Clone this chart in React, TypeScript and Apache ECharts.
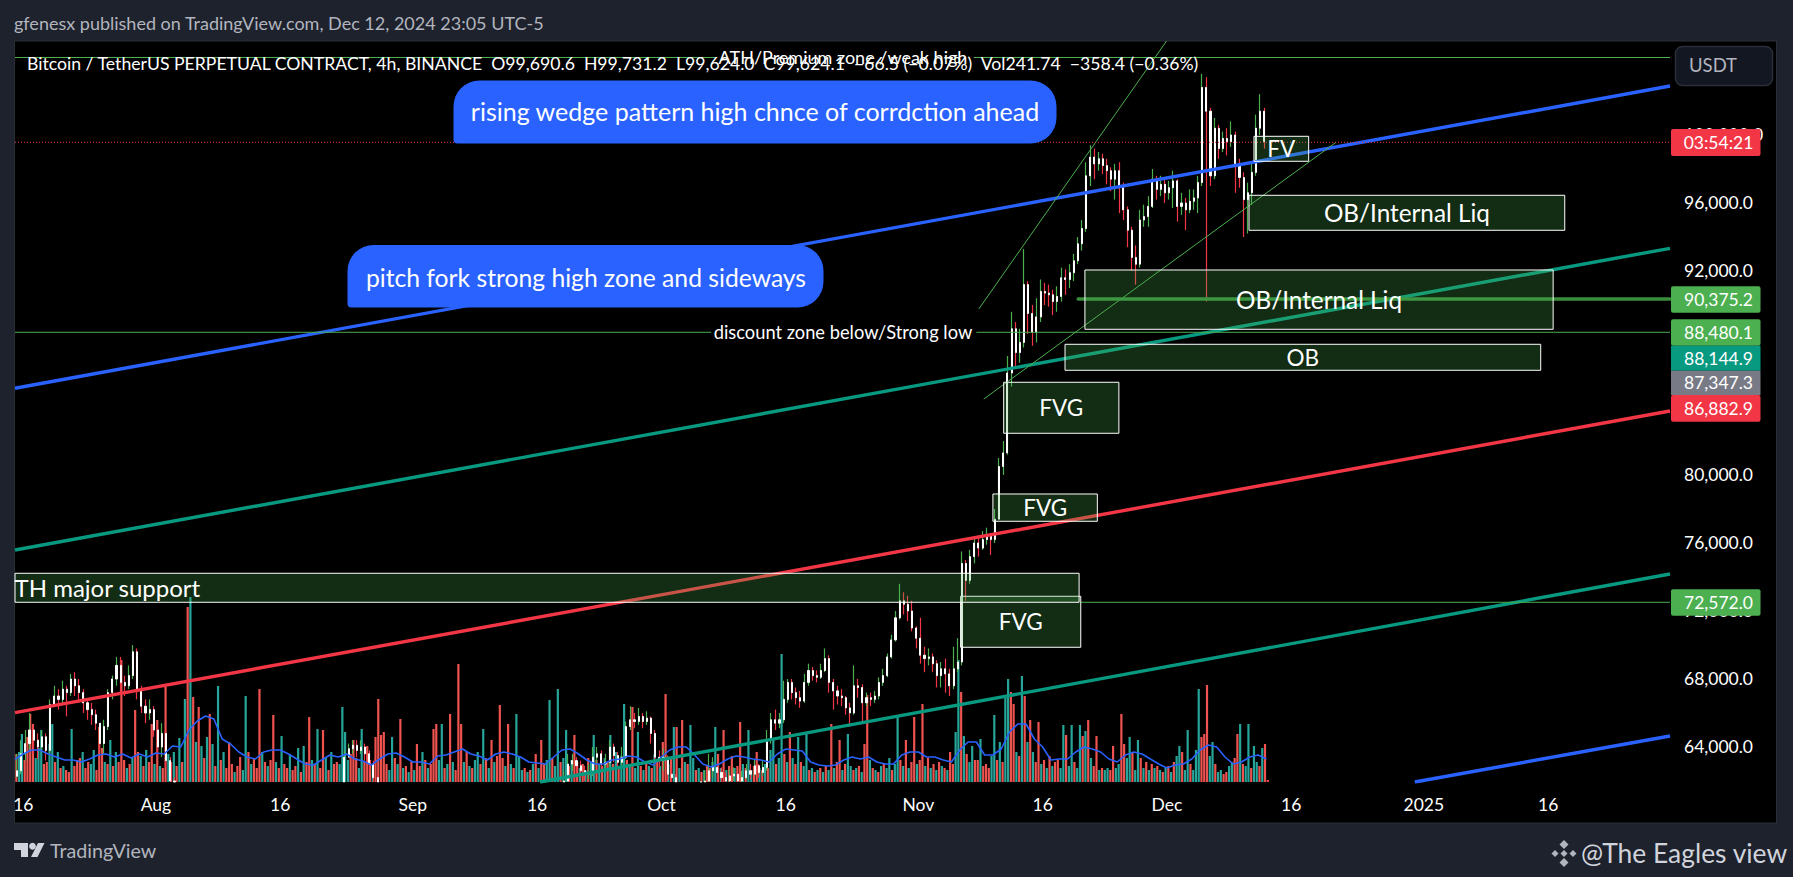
import React, { useEffect, useRef } from "react";
import * as echarts from "echarts";

const FONT = "Lato, 'Noto Sans', sans-serif";
const Y_MIN = 61941;
const Y_MAX = 105529;
const X_MAX = 199.7;

const tickDays = [1, 17, 32, 48, 63, 78, 93, 109, 124, 139, 154, 170, 185];
const tickLabels = ["16", "Aug", "16", "Sep", "16", "Oct", "16", "Nov", "16", "Dec", "16", "2025", "16"];
const priceTicks = [64000, 68000, 72000, 76000, 80000, 92000, 96000, 100000];

// close, high, low in thousand USDT, one row every 12 hours; opens follow the previous close
const candlesJul = [
  62.6,63.6,62.2, 63.6,64.4,62.4, 64.2,65.0,63.2, 65.0,66.0,63.8, 64.4,65.2,63.6, 64.0,64.8,63.3, 64.6,65.0,63.8, 63.8,64.8,63.2,
  66.5,66.8,63.6, 67.0,67.6,66.4, 66.8,67.4,66.2, 67.4,67.9,66.6, 67.2,67.6,65.8, 68.0,68.3,67.0, 67.6,68.4,67.0, 67.2,68.0,66.6,
  66.6,67.4,66.0, 66.2,66.8,65.6, 65.9,66.6,65.3, 65.4,66.2,65.0, 64.2,65.4,63.8, 65.2,65.6,63.6, 67.2,67.4,65.0, 68.0,68.2,66.8,
  68.8,69.3,67.6, 67.8,69.3,67.2, 67.6,68.2,67.0, 68.2,68.8,67.4, 69.6,70.0,68.0, 67.4,69.8,66.8, 66.4,67.6,66.0, 66.0,66.8,65.4,
  66.2,66.8,65.6, 65.0,66.4,64.6, 64.0,65.2,63.4, 64.8,65.4,63.4, 63.2,65.0,62.8, 62.0,63.4,61.6, 60.5,62.2,60.0,
];
const candlesAug = [
  63.4,63.8,61.4, 63.9,64.2,63.4, 64.1,64.4,63.6, 63.8,64.4,63.4, 64.0,64.4,63.6, 63.6,64.2,63.2, 63.0,63.8,62.6, 62.2,63.2,61.8, 61.2,62.4,60.8,
];
const candlesSep = [
  62.0,62.6,61.4, 63.0,63.6,61.8, 63.2,63.6,62.6, 62.9,63.4,62.4, 62.6,63.2,62.2, 62.4,62.9,62.0, 62.5,63.0,62.1, 63.4,64.0,62.3,
  63.6,64.0,63.0, 63.0,63.8,62.7, 63.1,63.6,62.6, 64.0,64.4,62.8, 63.5,64.2,63.1, 63.1,63.7,62.8, 63.4,64.0,62.9, 65.2,65.5,63.3,
  65.6,66.4,65.0, 65.5,66.0,65.1, 65.8,66.3,65.3, 65.5,66.0,65.1, 65.7,66.1,65.3, 64.8,65.8,64.2, 63.4,65.0,62.9, 63.2,63.8,62.8,
  63.4,63.9,62.6, 62.4,63.5,62.0, 62.2,62.8,61.8, 61.2,62.4,60.4, 60.8,61.4,60.2, 60.6,61.2,60.1, 60.6,61.1,60.2, 61.2,61.6,60.5,
  61.0,61.5,60.6, 61.6,62.0,61.0, 62.0,62.6,61.4, 62.6,63.6,61.8, 62.8,63.4,62.2, 62.5,63.0,62.0, 62.2,62.8,61.9, 62.0,62.5,61.6,
  62.3,62.7,61.9, 62.4,62.8,62.0, 62.0,62.5,61.7, 62.2,62.6,61.8, 62.6,63.0,62.1, 62.4,63.0,62.1, 62.9,63.3,62.3, 62.5,63.0,62.2,
  62.8,63.2,62.3, 64.4,65.0,62.6, 65.6,66.0,64.2, 65.4,66.2,65.0, 65.6,66.0,65.1, 66.8,67.9,65.4, 67.8,68.0,66.6, 67.2,68.0,66.8,
  66.9,67.5,66.5, 66.7,67.3,66.3, 67.8,68.3,66.6, 68.5,68.9,67.6, 68.2,68.7,67.9, 68.1,68.5,67.8, 68.5,68.9,68.0, 69.2,69.8,68.4,
  67.8,69.4,67.2, 67.3,68.0,66.2, 67.0,67.6,66.5, 66.9,67.4,66.4, 66.3,67.0,65.9, 66.0,66.6,65.2, 67.6,68.8,65.9, 67.5,68.0,66.9,
  66.6,67.7,65.4, 66.9,67.2,66.4, 66.8,67.2,66.4, 67.0,67.3,66.6, 67.8,68.1,66.8, 68.2,68.6,67.6, 69.3,69.5,68.1, 70.3,70.6,69.2,
  71.6,72.0,70.2, 72.6,73.6,71.5, 72.4,73.1,71.8, 72.0,72.9,71.4, 71.0,72.6,70.8, 70.4,71.1,69.8, 69.4,71.6,68.9, 69.2,69.9,68.4,
  69.3,69.8,68.8, 68.9,69.5,68.4, 68.2,69.1,67.5, 68.6,69.0,67.5, 68.3,69.2,67.2, 67.6,68.6,67.0, 68.6,69.9,67.4, 69.0,70.4,68.4,
  74.8,75.5,68.8, 73.8,75.0,72.6, 75.2,75.6,73.6, 76.0,76.4,74.8, 75.7,76.3,75.2, 76.2,76.7,75.6, 76.4,76.9,75.9, 76.2,76.6,75.3,
  77.4,78.0,76.0, 80.5,81.0,77.4, 81.3,82.0,80.0, 86.0,87.0,81.2, 88.6,89.6,85.2, 87.2,89.0,86.4, 87.8,88.6,86.6, 91.2,93.3,87.5,
  89.5,91.4,88.3, 88.4,90.0,87.6, 89.3,90.4,87.8, 90.8,91.5,89.0, 90.7,91.3,90.0, 90.6,91.2,89.9, 90.2,90.9,89.4, 90.5,91.1,89.6,
  91.6,92.2,90.2, 91.5,92.1,90.6, 91.9,92.4,91.0, 92.6,93.0,91.4, 93.6,94.0,92.4, 94.5,95.0,93.2, 97.6,98.4,94.3, 98.7,99.4,97.0,
  98.3,99.2,97.4, 98.6,99.0,97.9, 98.2,98.9,97.7, 97.9,98.6,97.1, 97.4,98.1,96.7, 97.9,98.3,96.2, 96.9,98.4,95.4, 95.6,97.2,95.0,
  94.4,95.8,93.4, 92.8,94.6,92.0, 92.4,93.5,91.2, 95.0,95.6,92.2, 95.2,95.9,94.6, 95.8,96.4,94.6, 97.4,98.0,95.7, 96.8,97.6,96.2,
  97.1,97.6,96.4, 96.6,97.4,96.0, 96.9,97.3,96.2, 97.3,97.9,95.7, 95.8,97.4,94.9, 96.0,96.6,95.3, 95.6,96.3,94.4, 96.1,96.8,95.4,
  96.3,96.8,95.6, 97.2,97.6,95.4, 102.8,103.6,97.0, 101.4,103.4,90.2, 97.6,101.6,97.0, 100.4,101.0,97.4, 99.2,100.6,98.6, 99.8,100.2,99.0,
  99.6,100.4,98.8, 100.0,100.8,99.3, 98.3,100.2,96.6, 97.5,98.6,96.9, 96.2,97.8,94.0, 96.6,97.2,94.2, 97.8,98.4,95.9, 100.4,101.2,97.6,
  101.4,102.4,100.0, 99.6,101.6,99.2,
];
const candleSegments: [number, number[]][] = [[0, candlesJul], [39.5, candlesAug], [66, candlesSep]];

// signed volume, one value every 8 hours: positive closes up, negative closes down
const volumes = [
  -28,30,48,-22,-45,-68,-58,24,34,52,-18,-20,38,58,-20,30,-14,16,-12,-10,53,-16,-22,-24,30,-14,-20,18,32,-12,-55,-34,20,-18,42,-16,30,-20,-122,-22,
  14,-18,24,-72,-30,26,-16,32,-20,-58,18,-62,16,-14,-95,28,-20,30,-16,44,-20,83,-175,185,-85,40,-75,36,-24,45,-68,38,-16,96,-22,30,-14,-40,-18,10,
  -16,-25,12,86,-30,18,-24,-14,-93,30,-20,16,-22,-67,20,-14,46,-18,-14,28,-12,-16,34,-10,36,-20,-65,22,-18,53,-14,-52,24,-12,30,-18,
  -20,18,75,50,22,-28,-42,-24,14,53,-20,-36,-22,16,-45,-83,-47,-50,-18,12,45,-24,18,-63,14,-16,10,-20,12,-38,-16,30,-22,14,-18,-53,-58,22,58,-14,
  18,-68,20,-12,-118,-58,20,-30,16,-14,22,30,-18,53,-24,14,-42,20,-26,-77,-24,16,-58,18,-14,68,26,12,-14,10,-12,18,-28,14,-42,-18,22,82,-24,16,
  93,-20,24,52,-16,22,-47,-20,14,-18,12,-24,20,47,-22,18,-16,24,-20,47,-18,30,-14,26,78,-22,18,-75,14,50,-16,12,-20,16,-14,28,
  -22,16,-40,-88,18,-24,55,-55,14,-62,20,-18,57,24,-12,14,-10,12,-16,-14,20,55,-28,14,-52,12,-16,-26,14,-16,-60,18,-14,52,12,-16,-30,14,-12,18,
  -14,32,42,-18,24,128,-28,20,-50,24,-18,45,-20,16,48,-12,14,-10,12,-14,10,-16,12,-58,14,-20,-42,12,-18,48,16,-12,14,-16,10,-38,-87,22,-14,12,
  -10,16,-18,14,24,-12,18,65,-22,16,-42,14,-20,-65,18,-22,-78,16,-24,14,-18,12,-20,16,-14,12,-30,-18,50,122,-90,46,-28,20,36,-22,
  -22,43,-16,-18,-14,26,67,-22,40,-20,85,103,-90,-78,30,-26,106,-86,40,-62,30,-20,-60,18,-22,14,-26,16,-20,-22,14,57,-47,16,57,-20,14,57,-46,51,
  -62,24,-16,-46,12,-14,12,14,-12,-36,14,18,-68,-38,24,45,-30,12,42,-24,14,-20,12,-18,14,-16,12,-10,14,-16,10,-20,26,36,-30,12,52,-18,12,32,
  93,-45,-48,-97,26,40,-18,10,12,-8,-10,16,20,-24,-48,58,-18,16,58,-14,36,20,-16,34,-38,-2,
];
// volume moving average, one value per day
const volumeMA = [
  23,28,32,32,28,25,22,22,20,23,27,28,25,28,24,28,25,29,28,36,35,52,61,66,63,43,38,30,25,23,30,32,32,28,23,18,17,22,27,
  25,28,23,21,17,23,28,29,25,20,20,18,26,27,30,33,28,26,22,28,30,28,25,20,19,18,25,32,33,28,22,18,18,22,23,26,25,20,17,
  25,32,35,35,27,18,15,18,23,26,25,23,22,20,28,33,32,31,20,17,16,17,22,25,23,25,20,18,18,27,30,30,25,25,22,20,32,40,
  40,27,27,33,50,58,58,43,35,22,23,23,30,35,33,30,23,20,27,30,28,23,18,14,17,18,23,32,37,35,25,18,20,25,27,23,
];

const trendLines = [
  { name: "Pitchfork upper", color: "#2962ff", pts: [[0, 85100], [199.7, 102880]] },
  { name: "Pitchfork lower", color: "#2962ff", pts: [[168.9, 61941], [199.7, 64649]] },
  { name: "Channel upper", color: "#089981", pts: [[0, 75590], [199.7, 93335]] },
  { name: "Median", color: "#f23645", pts: [[0, 66020], [199.7, 83765]] },
  { name: "Channel lower", color: "#089981", pts: [[63.35, 61941], [199.7, 74178]] },
];
const wedgeLines = [
  [[116.3, 89765], [138.95, 105529]],
  [[116.9, 84471], [159.4, 99570]],
];
const levelLines = [
  [[0, 104558], [84.5, 104558]],
  [[115.7, 104558], [199.7, 104558]],
  [[0, 88395], [84.0, 88395]],
  [[116.0, 88395], [199.7, 88395]],
  [[128.6, 72513], [199.7, 72513]],
];
const strongLevel = [[128.3, 90353], [199.7, 90353]];
const lastPriceLine = [[0, 99570], [199.7, 99570]];

const zones: [string, number, number, number, number][] = [
  ["FV", 149.5, 156.1, 98453, 99923],
  ["OB/Internal Liq", 148.9, 187.0, 94394, 96453],
  ["OB/Internal Liq", 129.1, 185.6, 88571, 92059],
  ["OB", 126.7, 184.1, 86159, 87689],
  ["FVG", 119.3, 133.2, 82454, 85454],
  ["FVG", 118.0, 130.6, 77278, 78883],
  ["FVG", 114.1, 128.6, 69866, 72866],
  ["TH major support", 0, 128.4, 72513, 74219],
];

const badgeLabels = ["03:54:21", "90,375.2", "88,480.1", "88,144.9", "87,347.3", "86,882.9", "72,572.0"];
const badgeColors = ["#f23645", "#4caf50", "#4caf50", "#089981", "#787b86", "#f23645", "#4caf50"];
const badgeTops = [129, 286.3, 319.3, 345.7, 370.7, 395, 589.3];
const badgeBottoms = [156, 312.7, 345.7, 370.7, 395, 421.7, 615.7];

// Price rows that lie below the visible range are cut at its floor, as the pane cuts them
const floorAt = (v: number) => Math.max(v, Y_MIN);
const candleRows: number[][] = [];
candleSegments.forEach(([start, flat]) => {
  let prev = flat[0];
  for (let i = 0; i < flat.length; i += 3) {
    const c = flat[i] * 1000;
    const h = flat[i + 1] * 1000;
    const l = flat[i + 2] * 1000;
    const o = i === 0 ? l + (c - l) * 0.2 : prev;
    if (Math.max(h, o, c) > Y_MIN) {
      candleRows.push([
        start + (i / 3) * 0.5 + 0.25,
        floorAt(o),
        floorAt(c),
        floorAt(Math.min(l, o, c)),
        Math.max(h, o, c),
      ]);
    }
    prev = c;
  }
});

const txt = (text: string, x: number, y: number, fontSize: number, fill: string, extra: any = {}) => ({
  type: "text",
  z: 95,
  style: { text, x, y, fontSize, fill, fontFamily: FONT, textVerticalAlign: "middle", ...extra },
});

function buildGraphics() {
  const els: any[] = [
    { type: "rect", z: -10, shape: { x: 14.5, y: 41, width: 1762, height: 782 }, style: { fill: "#000", stroke: "#2a2e39", lineWidth: 1 } },
    txt("gfenesx published on TradingView.com, Dec 12, 2024 23:05 UTC-5", 14, 23, 18, "#b2b5be"),
    txt("ATH/Premium zone /weak high", 843, 57, 18, "#ffffff", { textAlign: "center" }),
    txt(
      "Bitcoin / TetherUS PERPETUAL CONTRACT, 4h, BINANCE  O99,690.6  H99,731.2  L99,624.0  C99,624.1  −66.5 (−0.07%)  Vol241.74  −358.4 (−0.36%)",
      27, 63, 17.65, "#ffffff"
    ),
    txt("discount zone below/Strong low", 843, 332, 18.3, "#ffffff", { textAlign: "center" }),
    {
      type: "rect", z: 90, shape: { x: 453.5, y: 80.5, width: 603, height: 63, r: [26, 26, 26, 4] },
      style: { fill: "#2962ff" },
    },
    txt("rising wedge pattern high chnce of corrdction ahead", 755, 111, 25, "#ffffff", { textAlign: "center" }),
    {
      type: "rect", z: 90, shape: { x: 347.5, y: 245, width: 476, height: 62.5, r: [26, 26, 26, 4] },
      style: { fill: "#2962ff" },
    },
    txt("pitch fork strong high zone and sideways", 586, 277, 24.7, "#ffffff", { textAlign: "center" }),
    {
      type: "rect", z: 90, shape: { x: 1675.5, y: 46.5, width: 97, height: 39, r: 7 },
      style: { fill: "#131722", stroke: "#2a2e39", lineWidth: 1.5 },
    },
    txt("USDT", 1689, 65, 18.5, "#b2b5be"),
    txt("TradingView", 50, 850, 19.7, "#b2b5be"),
    { type: "polygon", z: 95, shape: { points: [[14, 843], [28, 843], [28, 857], [21, 857], [21, 850], [14, 850]] }, style: { fill: "#d1d4dc" } },
    { type: "circle", z: 95, shape: { cx: 32.5, cy: 846.3, r: 3.4 }, style: { fill: "#d1d4dc" } },
    { type: "polygon", z: 95, shape: { points: [[38, 843], [44.5, 843], [37.5, 857], [31, 857]] }, style: { fill: "#d1d4dc" } },
    txt("@The Eagles view", 1581, 853, 26.4, "#d1d4dc"),
  ];
  const diamond = (cx: number, cy: number, r: number) => ({
    type: "polygon", z: 95,
    shape: { points: [[cx, cy - r], [cx + r, cy], [cx, cy + r], [cx - r, cy]] },
    style: { fill: "#b2b5be" },
  });
  [[1564, 844.5, 4.5], [1555, 853.5, 3.5], [1564, 853.5, 3.5], [1573, 853.5, 3.5], [1564, 862.5, 4.5]].forEach(([a, b, c]) =>
    els.push(diamond(a, b, c))
  );
  badgeLabels.forEach((label, i) => {
    els.push({
      type: "rect", z: 92,
      shape: { x: 1671, y: badgeTops[i], width: 89.5, height: badgeBottoms[i] - badgeTops[i], r: i === 3 || i === 4 ? 0 : 2 },
      style: { fill: badgeColors[i] },
    });
    els.push(txt(label, 1718.5, (badgeTops[i] + badgeBottoms[i]) / 2, 17.5, "#ffffff", { textAlign: "center" }));
  });
  return els;
}

const lineSeries = (name: string, data: number[][], color: string, width: number, z: number, extra: any = {}, yAxisIndex = 0) => ({
  type: "line",
  name,
  data,
  z,
  yAxisIndex,
  silent: true,
  showSymbol: false,
  symbol: "none",
  animation: false,
  lineStyle: { color, width, ...extra },
});

export default function App() {
  const ref = useRef<HTMLDivElement>(null);
  useEffect(() => {
    const chart = echarts.init(ref.current!, null, { renderer: "svg" });
    const priceFmt = (v: number) => v.toLocaleString("en-US", { minimumFractionDigits: 1, maximumFractionDigits: 1 });
    chart.setOption({
      animation: false,
      backgroundColor: "#1e222d",
      textStyle: { fontFamily: FONT },
      grid: { left: 15, top: 41, width: 1655, height: 741, containLabel: false },
      xAxis: {
        type: "value",
        min: 0,
        max: X_MAX,
        splitLine: { show: false },
        axisLine: { show: false },
        axisTick: { show: false },
        axisLabel: {
          customValues: tickDays,
          color: "#ffffff",
          fontSize: 17.5,
          fontFamily: FONT,
          margin: 13,
          hideOverlap: false,
          formatter: (v: number) => tickLabels[tickDays.indexOf(v)] ?? "",
        },
      },
      yAxis: [
        {
          type: "value",
          min: Y_MIN,
          max: Y_MAX,
          position: "right",
          scale: true,
          splitLine: { show: false },
          axisLine: { show: false },
          axisTick: { show: false },
          axisLabel: {
            customValues: priceTicks,
            color: "#ffffff",
            fontSize: 17.5,
            fontFamily: FONT,
            margin: 14,
            hideOverlap: false,
            formatter: priceFmt,
          },
        },
        { type: "value", min: 0, max: 741, show: false },
      ],
      series: [
        {
          type: "bar",
          name: "Volume",
          yAxisIndex: 1,
          barWidth: 2.2,
          z: 1,
          silent: true,
          data: volumes.map((v, i) => ({
            value: [i / 3 + 1 / 6, Math.abs(v)],
            itemStyle: { color: v >= 0 ? "#26a69a" : "#ef5350" },
          })),
        },
        {
          type: "candlestick",
          name: "Bitcoin / TetherUS",
          barWidth: 1.2,
          z: 1.2,
          silent: true,
          encode: { x: 0, y: [1, 2, 3, 4] },
          itemStyle: { color: "#4caf50", color0: "#f23645", borderColor: "#4caf50", borderColor0: "#f23645", borderWidth: 1.2 },
          data: candleRows,
        },
        {
          type: "candlestick",
          name: "Bodies",
          barWidth: 1.6,
          z: 1.3,
          silent: true,
          encode: { x: 0, y: [1, 2, 3, 4] },
          itemStyle: { color: "#ffffff", color0: "#ffffff", borderColor: "#ffffff", borderColor0: "#ffffff", borderWidth: 1 },
          data: candleRows.map(([d, o, c]) => [d, o, c, Math.min(o, c), Math.max(o, c)]),
        },
        lineSeries("Volume MA", volumeMA.map((v, i) => [i, v]), "#2962ff", 1.6, 1.5, {}, 1),
        ...trendLines.map((l) => lineSeries(l.name, l.pts, l.color, 3.4, 3)),
        ...wedgeLines.map((pts, i) => lineSeries("Wedge " + i, pts, "#4caf50", 1, 3)),
        ...levelLines.map((pts, i) => lineSeries("Level " + i, pts, "#4caf50", 1, 3)),
        lineSeries("Strong level", strongLevel, "#388e3c", 3.6, 3, { cap: "round" }),
        lineSeries("Last price", lastPriceLine, "#f23645", 1, 3, { type: [1, 2] }),
        {
          type: "line",
          name: "Zones",
          z: 4,
          silent: true,
          symbol: "none",
          data: [[0, Y_MIN]],
          lineStyle: { width: 0 },
          markArea: {
            silent: true,
            z: 4,
            itemStyle: { color: "rgba(76,175,80,0.25)", borderColor: "#ffffff", borderWidth: 1 },
            label: { show: true, position: "inside", color: "#ffffff", fontSize: 22.5, fontFamily: FONT },
            data: zones.map(([name, d0, d1, p0, p1]) => [
              {
                name,
                xAxis: d0,
                yAxis: p1,
                label:
                  name.startsWith("TH")
                    ? { position: "insideLeft", distance: 0, fontSize: 24 }
                    : name.startsWith("OB/")
                    ? { fontSize: 24.3 }
                    : undefined,
              },
              { xAxis: d1, yAxis: p0 },
            ]),
          },
        },
      ],
      graphic: { elements: buildGraphics() },
    });
    return () => chart.dispose();
  }, []);
  return <div ref={ref} style={{ position: "fixed", left: 0, top: 0, width: 1793, height: 877 }} />;
}
